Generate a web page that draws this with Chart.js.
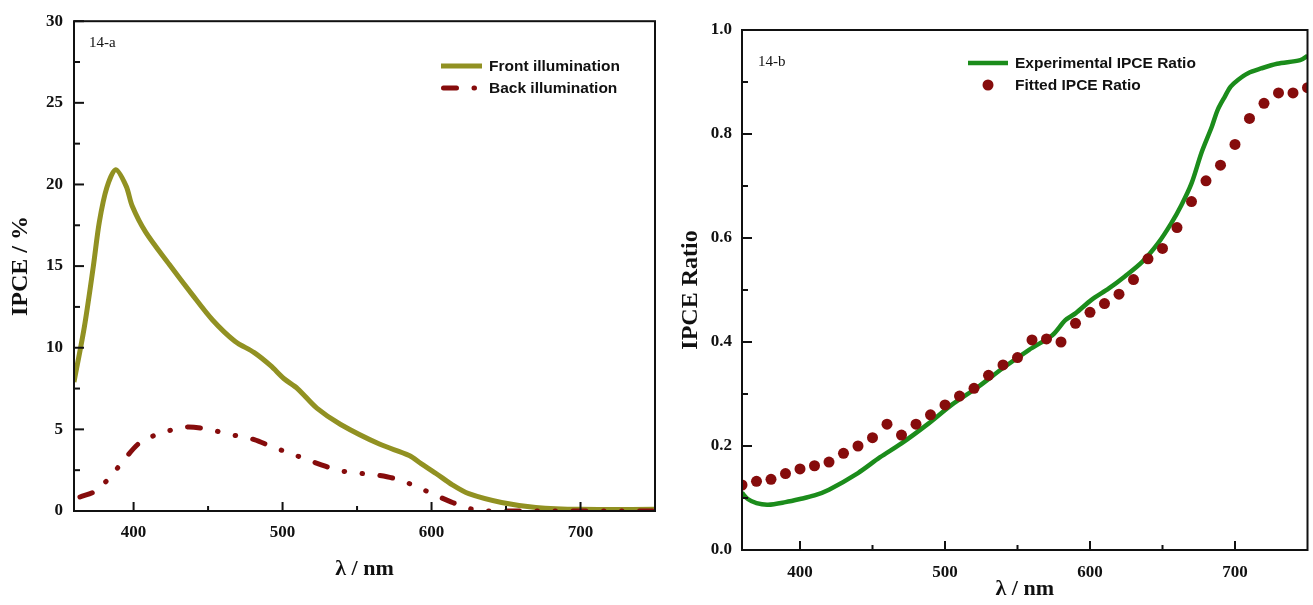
<!DOCTYPE html>
<html>
<head>
<meta charset="utf-8">
<title>IPCE spectra</title>
<script src="https://cdn.jsdelivr.net/npm/chart.js"></script>
<style>
  html, body { margin: 0; padding: 0; background: #fff; }
  body { width: 1313px; height: 605px; position: relative; overflow: hidden; }
  .panel { position: absolute; top: 0; height: 605px; }
  #panelA { left: 0; width: 660px; }
  #panelB { left: 660px; width: 653px; }
</style>
</head>
<body>
<div class="panel" id="panelA"><canvas id="chartA"></canvas></div>
<div class="panel" id="panelB"><canvas id="chartB"></canvas></div>
<script>
// 14-a : IPCE (%) under front and back illumination
const wlFront = [360, 367, 373, 377, 382, 388, 395, 399, 408, 424, 439, 453, 468, 481, 492, 501, 510, 523, 539, 565, 585, 593, 603, 614, 625, 647, 670, 700, 750];
const ipceFront = [7.9, 11.3, 15.0, 17.7, 19.8, 20.9, 19.9, 18.7, 17.1, 15.1, 13.3, 11.7, 10.4, 9.7, 8.9, 8.1, 7.5, 6.3, 5.3, 4.1, 3.4, 2.9, 2.3, 1.6, 1.06, 0.52, 0.22, 0.1, 0.1];

const wlBack = [364, 375, 386, 393, 404, 419, 437, 448, 468, 481, 492, 510, 526, 537, 553, 570, 581, 598, 613, 625, 635, 650, 750];
const ipceBack = [0.86, 1.26, 2.27, 3.07, 4.17, 4.77, 5.15, 5.03, 4.63, 4.37, 3.97, 3.37, 2.83, 2.5, 2.3, 2.1, 1.82, 1.16, 0.56, 0.16, 0, 0, 0];

const yTicksA = [0, 5, 10, 15, 20, 25, 30];
const yMinorA = [2.5, 7.5, 12.5, 17.5, 22.5, 27.5];

// 14-b : ratio of the two IPCE curves, measured and fitted
const wlExp = [360, 364, 370, 378, 390, 400, 410, 420, 440, 455, 470, 489, 505, 523, 540, 558, 574, 583, 590, 601, 613, 624, 636, 647, 656, 663, 670, 677, 684, 688, 693, 697, 702, 709, 718, 729, 745, 750];
const ratioExp = [0.110, 0.098, 0.090, 0.087, 0.092, 0.098, 0.105, 0.116, 0.148, 0.178, 0.205, 0.244, 0.280, 0.314, 0.350, 0.385, 0.413, 0.442, 0.455, 0.481, 0.503, 0.526, 0.554, 0.590, 0.628, 0.663, 0.705, 0.765, 0.814, 0.846, 0.872, 0.891, 0.904, 0.917, 0.926, 0.935, 0.942, 0.950];

const wlFit = [360, 370, 380, 390, 400, 410, 420, 430, 440, 450, 460, 470, 480, 490, 500, 510, 520, 530, 540, 550, 560, 570, 580, 590, 600, 610, 620, 630, 640, 650, 660, 670, 680, 690, 700, 710, 720, 730, 740, 750];
const ratioFit = [0.125, 0.132, 0.136, 0.147, 0.156, 0.162, 0.169, 0.186, 0.200, 0.216, 0.242, 0.221, 0.242, 0.260, 0.279, 0.296, 0.311, 0.336, 0.356, 0.370, 0.404, 0.406, 0.400, 0.436, 0.457, 0.474, 0.492, 0.520, 0.560, 0.580, 0.620, 0.670, 0.710, 0.740, 0.780, 0.830, 0.859, 0.879, 0.879, 0.889];

const yTicksB = [0, 0.2, 0.4, 0.6, 0.8, 1.0];
const yMinorB = [0.1, 0.3, 0.5, 0.7, 0.9];

const xTicks = [400, 500, 600, 700];
const xMinor = [450, 550, 650];

const SERIF = "'Liberation Serif', 'Times New Roman', serif";
const SANS = "'Liberation Sans', Arial, sans-serif";
const INK = '#111';

function pairs(xs, ys) {
  return xs.map((x, i) => ({ x: x, y: ys[i] }));
}

// box around the plot area + inward ticks on the bottom and left axes
const frameTicks = {
  id: 'frameTicks',
  afterDatasetsDraw(chart, args, opts) {
    const { ctx, chartArea: a, scales } = chart;
    ctx.save();
    ctx.strokeStyle = INK;
    ctx.lineWidth = 2;
    ctx.strokeRect(a.left, a.top, a.right - a.left, a.bottom - a.top);
    const tick = (vals, len) => {
      vals.forEach(v => {
        const px = scales.x.getPixelForValue(v);
        ctx.beginPath();
        ctx.moveTo(px, a.bottom);
        ctx.lineTo(px, a.bottom - len);
        ctx.stroke();
      });
    };
    const ytick = (vals, len) => {
      vals.forEach(v => {
        const py = scales.y.getPixelForValue(v);
        ctx.beginPath();
        ctx.moveTo(a.left, py);
        ctx.lineTo(a.left + len, py);
        ctx.stroke();
      });
    };
    tick(xTicks, 9);
    tick(xMinor, 5);
    ytick(opts.yMajor, 10);
    ytick(opts.yMinor, 6);
    ctx.restore();
  }
};

// legend block inside the plot + panel tag ("14-a" / "14-b")
const panelLegend = {
  id: 'panelLegend',
  afterDraw(chart, args, opts) {
    const ctx = chart.ctx;
    ctx.save();
    ctx.font = '15px ' + SERIF;
    ctx.fillStyle = INK;
    ctx.textBaseline = 'middle';
    ctx.fillText(opts.tag, opts.tagX, opts.tagY);

    ctx.font = 'bold 15.5px ' + SANS;
    chart.data.datasets.forEach((ds, i) => {
      const y = opts.y + i * opts.rowGap;
      const x0 = opts.x;
      const x1 = opts.x + opts.sample;
      if (ds.showLine === false) {
        ctx.fillStyle = ds.backgroundColor;
        ctx.beginPath();
        ctx.arc((x0 + x1) / 2, y, ds.pointRadius, 0, Math.PI * 2);
        ctx.fill();
      } else {
        ctx.strokeStyle = ds.borderColor;
        ctx.lineWidth = ds.borderWidth;
        ctx.lineCap = ds.borderCapStyle || 'butt';
        ctx.setLineDash(ds.borderDash || []);
        ctx.beginPath();
        ctx.moveTo(x0 + (ds.borderDash ? 2.5 : 0), y);
        ctx.lineTo(x1, y);
        ctx.stroke();
        ctx.setLineDash([]);
      }
      ctx.fillStyle = INK;
      ctx.fillText(ds.label, x1 + opts.gap, y + 1);
    });
    ctx.restore();
  }
};

function axisOptions(cfg) {
  return {
    x: {
      type: 'linear',
      min: 360,
      max: 750,
      afterBuildTicks: s => { s.ticks = xTicks.map(v => ({ value: v })); },
      afterFit: s => { s.height = cfg.xHeight; },
      grid: { display: false, drawTicks: false },
      border: { display: false },
      ticks: {
        padding: cfg.xPad,
        color: INK,
        font: { family: SERIF, weight: 'bold', size: 17 },
        maxRotation: 0
      },
      title: {
        display: true,
        text: 'λ / nm',
        color: INK,
        font: { family: SERIF, weight: 'bold', size: 22 },
        padding: { top: 0, bottom: cfg.xTitlePad }
      }
    },
    y: {
      type: 'linear',
      min: cfg.yMin,
      max: cfg.yMax,
      afterBuildTicks: s => { s.ticks = cfg.yTicks.map(v => ({ value: v })); },
      afterFit: s => { s.width = cfg.yWidth; },
      grid: { display: false, drawTicks: false },
      border: { display: false },
      ticks: {
        padding: cfg.yPad,
        color: INK,
        font: { family: SERIF, weight: 'bold', size: 17 },
        callback: cfg.yFormat
      },
      title: {
        display: true,
        text: cfg.yTitle,
        color: INK,
        font: { family: SERIF, weight: 'bold', size: 24 },
        padding: { top: cfg.yTitlePad, bottom: 0 }
      }
    }
  };
}

new Chart(document.getElementById('chartA'), {
  type: 'line',
  data: {
    datasets: [
      {
        label: 'Front illumination',
        data: pairs(wlFront, ipceFront),
        borderColor: '#919122',
        borderWidth: 5,
        pointRadius: 0,
        tension: 0.3,
        order: 1
      },
      {
        label: 'Back illumination',
        data: pairs(wlBack, ipceBack),
        borderColor: '#860c0c',
        borderWidth: 5,
        borderDash: [13, 17.5, 0.5, 17.5, 0.5, 17.5],
        borderCapStyle: 'round',
        pointRadius: 0,
        cubicInterpolationMode: 'monotone',
        order: 0
      }
    ]
  },
  options: {
    responsive: true,
    maintainAspectRatio: false,
    animation: false,
    layout: { padding: { top: 12, right: 5, left: 0, bottom: 0 } },
    scales: axisOptions({
      xHeight: 94, xPad: 11, xTitlePad: 22,
      yMin: 0, yMax: 30, yTicks: yTicksA, yWidth: 74, yPad: 11,
      yTitle: 'IPCE / %', yTitlePad: 6,
      yFormat: v => String(v)
    }),
    plugins: {
      legend: { display: false },
      tooltip: { enabled: false },
      frameTicks: { yMajor: yTicksA, yMinor: yMinorA },
      panelLegend: { tag: '14-a', tagX: 89, tagY: 43, x: 441, y: 66, rowGap: 22, sample: 41, gap: 7 }
    }
  },
  plugins: [frameTicks, panelLegend]
});

new Chart(document.getElementById('chartB'), {
  type: 'line',
  data: {
    datasets: [
      {
        label: 'Experimental IPCE Ratio',
        data: pairs(wlExp, ratioExp),
        borderColor: '#1b8c1b',
        borderWidth: 4.5,
        pointRadius: 0,
        tension: 0.3,
        order: 1
      },
      {
        label: 'Fitted IPCE Ratio',
        data: pairs(wlFit, ratioFit),
        showLine: false,
        backgroundColor: '#860c0c',
        borderColor: '#860c0c',
        borderWidth: 0,
        pointRadius: 5.5,
        order: 0
      }
    ]
  },
  options: {
    responsive: true,
    maintainAspectRatio: false,
    animation: false,
    layout: { padding: { top: 30, right: 4, left: 0, bottom: 0 } },
    scales: axisOptions({
      xHeight: 55, xPad: 12, xTitlePad: 2,
      yMin: 0, yMax: 1, yTicks: yTicksB, yWidth: 82, yPad: 10,
      yTitle: 'IPCE Ratio', yTitlePad: 16,
      yFormat: v => v.toFixed(1)
    }),
    plugins: {
      legend: { display: false },
      tooltip: { enabled: false },
      frameTicks: { yMajor: yTicksB, yMinor: yMinorB },
      panelLegend: { tag: '14-b', tagX: 98, tagY: 62, x: 308, y: 63, rowGap: 22, sample: 40, gap: 7 }
    }
  },
  plugins: [frameTicks, panelLegend]
});
</script>
</body>
</html>
